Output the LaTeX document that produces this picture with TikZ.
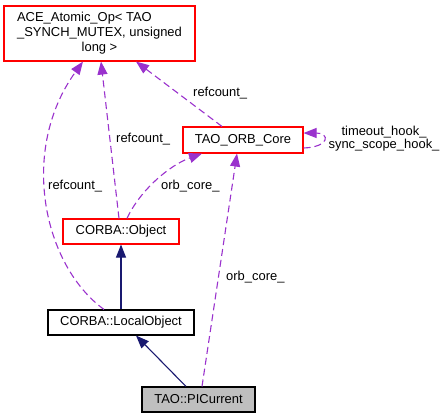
\documentclass[tikz,border=0pt]{standalone}
\usepackage{fontspec}
\setmainfont{Liberation Sans}
\usetikzlibrary{arrows.meta}
\definecolor{edgepurple}{HTML}{9A32CD}
\definecolor{navyblue}{HTML}{191970}
\definecolor{nodegray}{HTML}{BFBFBF}
\begin{document}
\begin{tikzpicture}[x=1bp,y=-1bp, font=\fontsize{13}{15}\selectfont,
  box/.style={draw=black, line width=1.1bp, inner sep=0pt, rectangle},
  redbox/.style={box, draw=red},
  dep/.style={draw=edgepurple, line width=1.1bp, dash pattern=on 7bp off 4bp, -{Triangle[length=13bp,width=10bp]}},
  inh/.style={draw=navyblue, line width=1.1bp, -{Triangle[length=13bp,width=10bp]}},
  lbl/.style={inner sep=0pt, anchor=west}]
\useasboundingbox (0,0) rectangle (445,419);
\node[redbox, minimum width=191bp, minimum height=55bp] (ace) at (99.5,33.5)
  {\begin{tabular}{@{}l@{}}ACE\_Atomic\_Op< TAO\\\_SYNCH\_MUTEX, unsigned\\\multicolumn{1}{@{}c@{}}{long >}\end{tabular}};
\node[redbox, minimum width=120bp, minimum height=26bp] (orb) at (243,140) {TAO\_ORB\_Core};
\node[redbox, minimum width=116bp, minimum height=25bp] (obj) at (121,231.5) {CORBA::Object};
\node[box, minimum width=146bp, minimum height=25bp] (local) at (121,322.5) {CORBA::LocalObject};
\node[box, fill=nodegray, minimum width=113bp, minimum height=25bp] (pic) at (198.5,399.5) {TAO::PICurrent};

\draw[inh] (local.north) -- (obj.south);
\draw[inh] ([xshift=-12.5bp]pic.north) -- ([xshift=15bp]local.south);

\draw[dep] ([xshift=-17bp]local.north) .. controls (43,265) and (19,150) .. ([xshift=-16.5bp]ace.south);
\draw[dep] ([xshift=-2bp]obj.north) -- ([xshift=1.5bp]ace.south);
\draw[dep] ([xshift=-21bp]orb.north) -- ([xshift=36.5bp]ace.south);
\draw[dep] ([xshift=6bp]obj.north) .. controls (140,190) and (170,165) .. ([xshift=-41bp]orb.south);
\draw[dep] ([xshift=3.5bp]pic.north) -- ([xshift=-6bp]orb.south);
\draw[dep] ([yshift=-8bp]orb.east) .. controls (330,147) and (330,133) .. ([yshift=7bp]orb.east);

\node[lbl] (l1) at (48,186) {refcount\_};
\node[lbl] (l2) at (116,139) {refcount\_};
\node[lbl] (l3) at (193,93) {refcount\_};
\node[lbl] (l4) at (161,186) {orb\_core\_};
\node[lbl] (l5) at (226,277) {orb\_core\_};
\node[align=center, inner sep=0pt, font=\fontsize{13}{13}\selectfont] (l6) at (384,138.5) {timeout\_hook\_\\sync\_scope\_hook\_};
\end{tikzpicture}
\end{document}
